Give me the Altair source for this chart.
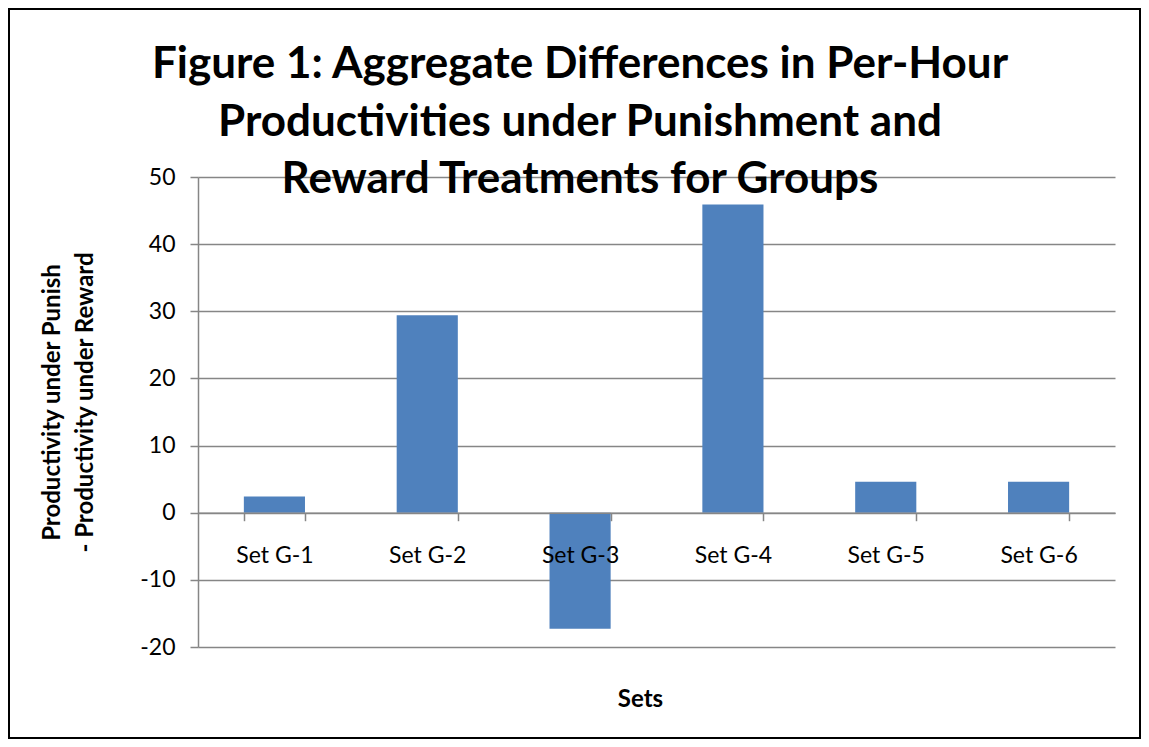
import altair as alt
import pandas as pd

sets = ["Set G-1", "Set G-2", "Set G-3", "Set G-4", "Set G-5", "Set G-6"]
diffs = [2.4, 29.4, -17.3, 45.9, 4.6, 4.6]
y_ticks = [-20, -10, 0, 10, 20, 30, 40, 50]
title_lines = [
    "Figure 1: Aggregate Differences in Per-Hour",
    "Productivities under Punishment and",
    "Reward Treatments for Groups",
]
y_title = ["Productivity under Punish", "- Productivity under Reward"]
x_title = "Sets"

df = pd.DataFrame({"set": sets, "diff": diffs})

FONT = "Lato"
GRAY = "#868686"
W, H = 917, 470
PAD = {"left": 190, "top": 169, "right": 26, "bottom": 92}

bars = alt.Chart(df).mark_bar(color="#4F81BD").encode(
    x=alt.X(
        "set:N",
        sort=sets,
        scale=alt.Scale(paddingInner=0.6, paddingOuter=0.3),
        axis=alt.Axis(
            title=x_title,
            labelAngle=0,
            labelFont=FONT,
            labelFontSize=23,
            labelColor="black",
            labelBaseline="alphabetic",
            labelPadding=42,
            tickBand="extent",
            tickSize=8,
            tickColor=GRAY,
            tickWidth=1.5,
            domainColor=GRAY,
            domainWidth=1.5,
            offset=-(H * 20 / 70),
            grid=False,
            zindex=1,
            titleFont=FONT,
            titleFontSize=24,
            titleFontWeight="bold",
            titleColor="black",
            titleBaseline="alphabetic",
            titleX=442,
            titleY=194,
            titleAlign="center",
        ),
    ),
    y=alt.Y(
        "diff:Q",
        scale=alt.Scale(domain=[-20, 50], nice=False, zero=False),
        axis=alt.Axis(
            title=y_title,
            values=y_ticks,
            labelExpr="toString(datum.value)",
            labelFont=FONT,
            labelFontSize=23,
            labelColor="black",
            labelPadding=15,
            tickSize=8,
            tickColor=GRAY,
            tickWidth=1.5,
            domainColor=GRAY,
            domainWidth=1.5,
            grid=True,
            gridColor=GRAY,
            gridWidth=1.5,
            titleFont=FONT,
            titleFontSize=24,
            titleFontWeight="bold",
            titleColor="black",
            titleAngle=270,
            titleBaseline="top",
            titleAlign="center",
            titleLineHeight=33,
            titleX=-158,
            titleY=225,
        ),
    ),
)

frame = alt.Chart(pd.DataFrame({"a": [0]})).mark_rect(
    fillOpacity=0, stroke="black", strokeWidth=2
).encode(
    x=alt.value(-PAD["left"] + 1),
    x2=alt.value(W + PAD["right"] - 1),
    y=alt.value(-PAD["top"] + 1),
    y2=alt.value(H + PAD["bottom"] - 1),
)

title = alt.Chart(pd.DataFrame({"a": [0]})).mark_text(
    font=FONT,
    fontSize=44,
    fontWeight="bold",
    color="black",
    align="center",
    baseline="alphabetic",
    lineHeight=57.5,
).encode(
    x=alt.value(382),
    y=alt.value(78 - 177),
    text=alt.value(title_lines),
)

chart = alt.layer(frame, bars, title).properties(
    width=W,
    height=H,
    padding=PAD,
    autosize=alt.AutoSizeParams(type="none"),
).configure_view(strokeOpacity=0)

chart.save("out.html", embed_options={"renderer": "svg", "actions": False})
